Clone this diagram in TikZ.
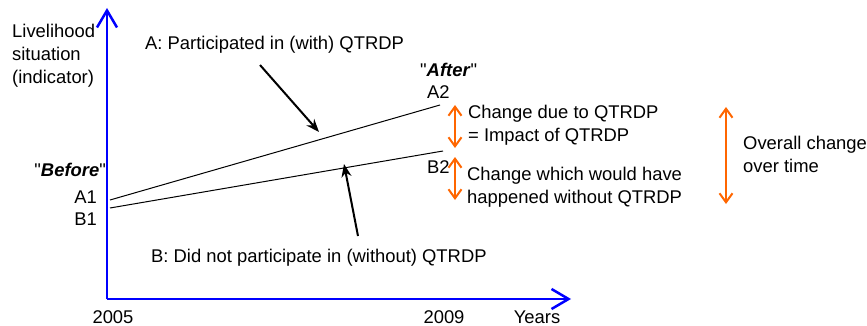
\documentclass[tikz,border=0pt]{standalone}
\usepackage{fontspec}
\setmainfont{Liberation Sans}
\usepackage{tikz}
\usetikzlibrary{arrows.meta, calc, positioning}
\definecolor{axisblue}{RGB}{0,0,255}
\definecolor{chgorange}{RGB}{255,102,0}
\newcommand{\lbl}{\fontsize{18.4}{23}\selectfont}
\newcommand{\qt}{\textquotedbl}
\tikzset{
  axisline/.style={axisblue, line width=2.5pt, -{Straight Barb[length=17pt,width=20pt,line width=2.5pt]}},
  chgarrow/.style={chgorange, line width=2pt, {Straight Barb[length=9pt,width=13pt]}-{Straight Barb[length=9pt,width=13pt]}},
  ptrarrow/.style={line width=2pt, -{Stealth[length=13pt,width=10pt]}},
  txt/.style={font=\lbl, inner sep=0pt, align=left}
}

\begin{document}
\begin{tikzpicture}[x=1pt,y=-1pt]
\useasboundingbox (0,0) rectangle (867,326);
% axes
\coordinate (O) at (107,299);
\coordinate (ytip) at (107,8);
\coordinate (xtip) at (571,299);
\draw[axisline] (O)--(ytip);
\draw[axisline] (O)--(xtip);
\node[txt, anchor=north west] (ylab) at (12,24) {Livelihood\\situation\\(indicator)};
\node[txt] (y05) at (113,317) {2005};
\node[txt] (y09) at (444,317) {2009};
\node[txt] (years) at (537,317) {Years};

% the two groups
\coordinate (pA1) at (110,200);
\coordinate (pA2) at (440,105);
\coordinate (pB1) at (110,208);
\coordinate (pB2) at (443,151);
\draw[line width=1pt] (pA1)--(pA2);
\draw[line width=1pt] (pB1)--(pB2);
\node[txt, anchor=east] (before) at (106,170) {\qt\textbf{\textit{Before}}\qt};
\node[txt, anchor=east] (A1) at (97,197) {A1};
\node[txt, anchor=east] (B1) at (97,219) {B1};
\node[txt, anchor=west] (after) at (420,70) {\qt\textbf{\textit{After}}\qt};
\node[txt, anchor=west] (A2) at (427,92) {A2};
\node[txt, anchor=west] (B2) at (427,167) {B2};

% labels with pointers
\node[txt, anchor=west] (labA) at (145,45) {A: Participated in (with) QTRDP};
\node[txt, anchor=west] (labB) at (151,258) {B: Did not participate in (without) QTRDP};
\coordinate (tailA) at (260,65);
\coordinate (headA) at (319,132);
\coordinate (tailB) at (358,236);
\coordinate (headB) at (344,164);
\draw[ptrarrow] (tailA)--(headA);
\draw[ptrarrow] (tailB)--(headB);

% changes
\coordinate (c1t) at (455,105);
\coordinate (c1b) at (455,148);
\coordinate (c2t) at (455,157);
\coordinate (c2b) at (455,200);
\coordinate (c3t) at (726,107);
\coordinate (c3b) at (726,204);
\draw[chgarrow] (c1t)--(c1b);
\draw[chgarrow] (c2t)--(c2b);
\draw[chgarrow] (c3t)--(c3b);
\node[txt, anchor=west] (impact) at (468,125) {Change due to QTRDP\\= Impact of QTRDP};
\node[txt, anchor=west] (without) at (467,187) {Change which would have\\happened without QTRDP};
\node[txt, anchor=west] (overall) at (743,154) {Overall change\\over time};
\end{tikzpicture}
\end{document}
